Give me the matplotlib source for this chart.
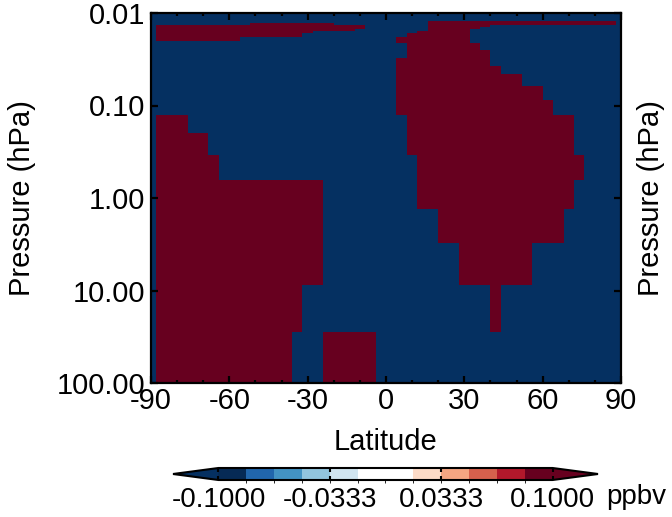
import numpy as np
import matplotlib
matplotlib.use('Agg')
import matplotlib.pyplot as plt
from matplotlib.colors import ListedColormap, BoundaryNorm
from matplotlib.ticker import MultipleLocator, NullLocator, FixedLocator

plt.rcParams['font.family'] = ['Liberation Sans', 'DejaVu Sans']
plt.rcParams['axes.unicode_minus'] = False

# ---------------- data ----------------
lat_centers = np.arange(-90, 91, 4)
p_edges = [0.01, 0.0122, 0.0128, 0.0135, 0.0143, 0.0150, 0.0157, 0.0166,
           0.0183, 0.0199, 0.0213, 0.0251, 0.0309, 0.0374, 0.0457, 0.0615,
           0.0872, 0.127, 0.200, 0.343, 0.639, 1.33, 3.04, 8.72, 27.9, 100.0]

# latitude ranges with positive anomaly (> +0.1 ppbv) for each pressure layer (top -> bottom)
positive_bands = [
    [],
    [(16, 90)],
    [(-52, -20), (16, 90)],
    [(-90, -8), (16, 40)],
    [(-90, -8), (16, 36)],
    [(-90, -12), (16, 32)],
    [(-90, -28), (12, 32)],
    [(-90, -32), (8, 32)],
    [(-90, -56), (4, 32)],
    [(4, 32)],
    [(8, 36)],
    [(8, 40)],
    [(4, 40)],
    [(4, 44)],
    [(4, 52)],
    [(4, 60)],
    [(4, 64)],
    [(-90, -76), (8, 72)],
    [(-90, -68), (8, 72)],
    [(-90, -64), (12, 76)],
    [(-90, -24), (12, 72)],
    [(-90, -24), (20, 68)],
    [(-90, -24), (28, 56)],
    [(-90, -32), (40, 44)],
    [(-90, -36), (-24, -4)],
]
pos_value = 0.15
neg_value = -0.15

levels = np.linspace(-0.1, 0.1, 13)
cbar_ticks = [-0.1, -0.0333, 0.0333, 0.1]
cbar_ticklabels = ['-0.1000', '-0.0333', '0.0333', '0.1000']
x_ticks = [-90, -60, -30, 0, 30, 60, 90]
y_ticks = [0.01, 0.1, 1, 10, 100]
y_ticklabels = ['0.01', '0.10', '1.00', '10.00', '100.00']

box_colors = ['#062a55', '#2166ac', '#4393c3', '#92c5de', '#d1e5f0', '#ffffff',
              '#ffffff', '#fddbc7', '#f4a582', '#d6604d', '#b2182b', '#67001f']
under_color = '#053061'
over_color = '#67001f'

# ---------------- build field ----------------
lat_edges = np.concatenate([[-90], (lat_centers[:-1] + lat_centers[1:]) / 2, [90]])
Z = np.full((len(p_edges) - 1, len(lat_centers)), neg_value)
for i, bands in enumerate(positive_bands):
    for lo, hi in bands:
        Z[i, (lat_centers > lo) & (lat_centers < hi)] = pos_value

cmap = ListedColormap(box_colors)
cmap.set_under(under_color)
cmap.set_over(over_color)
norm = BoundaryNorm(levels, ncolors=len(box_colors))

W, H = 672, 517
fig = plt.figure(figsize=(W / 100, H / 100), dpi=100)
ax = fig.add_axes([151 / W, 1 - 383 / H, 470 / W, 370 / H])

mesh = ax.pcolormesh(lat_edges, p_edges, Z, cmap=cmap, norm=norm, shading='flat')
ax.set_yscale('log')
ax.set_ylim(100, 0.01)
ax.set_xlim(-90, 90)
ax.set_xticks(x_ticks)
ax.set_xticklabels([str(t) for t in x_ticks])
ax.xaxis.set_minor_locator(MultipleLocator(10))
ax.yaxis.set_major_locator(FixedLocator(y_ticks))
ax.set_yticklabels(y_ticklabels)
ax.yaxis.set_minor_locator(NullLocator())

fs = 21
ax.tick_params(which='both', direction='in', top=True, right=True, width=1.6, labelsize=fs)
ax.tick_params(which='major', length=5)
ax.tick_params(which='minor', length=2.5)
ax.tick_params(axis='x', pad=3)
ax.tick_params(axis='y', pad=4)
for s in ax.spines.values():
    s.set_linewidth(1.6)
ax.set_xlabel('Latitude', fontsize=fs, labelpad=9)
ax.set_ylabel('Pressure (hPa)', fontsize=fs, labelpad=15)
fig.text(651 / W, 1 - 198 / H, 'Pressure (hPa)', rotation=90, fontsize=fs,
         ha='center', va='center')

cax = fig.add_axes([173 / W, 1 - 480 / H, 425 / W, 12 / H])
cb = fig.colorbar(mesh, cax=cax, orientation='horizontal', extend='both',
                  extendfrac=0.136, ticks=cbar_ticks)
cb.set_ticklabels(cbar_ticklabels)
cb.outline.set_linewidth(1.5)
cax.tick_params(direction='in', length=3, width=1.5, top=True, bottom=True,
                labelsize=20, pad=5)
fig.text(606 / W, 1 - 497 / H, 'ppbv', fontsize=20, ha='left', va='center')

fig.savefig('out.png', dpi=100)
